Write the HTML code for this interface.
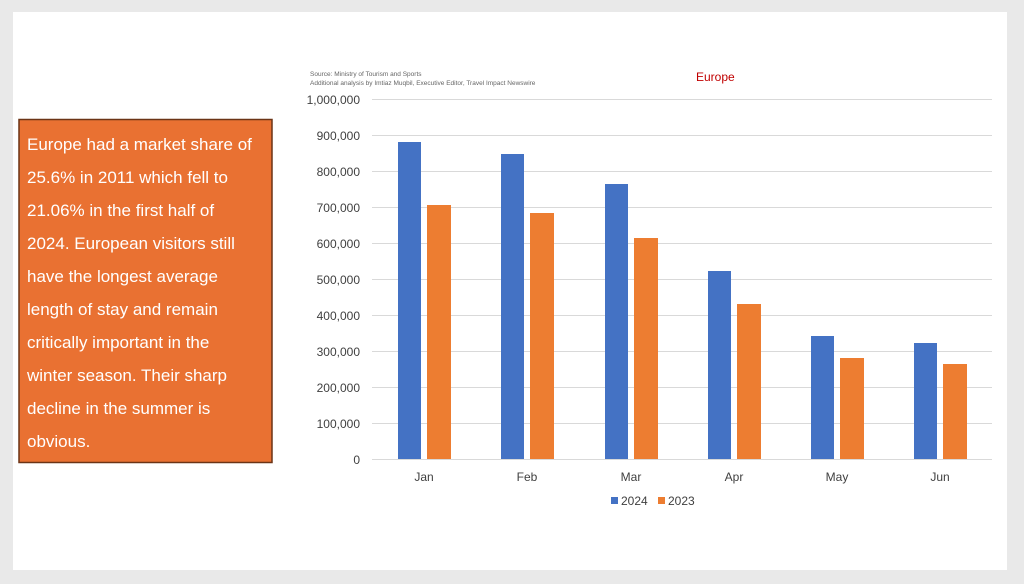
<!DOCTYPE html>
<html><head><meta charset="utf-8"><style>
html,body{margin:0;padding:0;background:#e9e9e9;}
svg{display:block;font-family:"Liberation Sans",sans-serif;}
</style></head><body>
<svg width="1024" height="584" xmlns="http://www.w3.org/2000/svg">
<rect x="0" y="0" width="1024" height="584" fill="#e9e9e9"/>
<rect x="13" y="12" width="994" height="558" fill="#ffffff"/>
<rect x="19" y="119.5" width="253" height="343" fill="#e97132" stroke="#6b3416" stroke-width="1.5"/>
<g fill="#ffffff" font-size="17">
<text x="27" y="150">Europe had a market share of</text>
<text x="27" y="183">25.6% in 2011 which fell to</text>
<text x="27" y="216">21.06% in the first half of</text>
<text x="27" y="249">2024. European visitors still</text>
<text x="27" y="282">have the longest average</text>
<text x="27" y="315">length of stay and remain</text>
<text x="27" y="348">critically important in the</text>
<text x="27" y="381">winter season. Their sharp</text>
<text x="27" y="414">decline in the summer is</text>
<text x="27" y="447">obvious.</text>
</g>
<text x="310" y="76" font-size="6.5" fill="#666">Source: Ministry of Tourism and Sports</text>
<text x="310" y="85" font-size="6.5" fill="#666">Additional analysis by Imtiaz Muqbil, Executive Editor, Travel Impact Newswire</text>
<text x="696" y="81" font-size="12" fill="#c00000">Europe</text>
<g stroke="#d9d9d9" stroke-width="1">
<line x1="372" x2="992" y1="99.5" y2="99.5"/><line x1="372" x2="992" y1="135.5" y2="135.5"/>
<line x1="372" x2="992" y1="171.5" y2="171.5"/><line x1="372" x2="992" y1="207.5" y2="207.5"/>
<line x1="372" x2="992" y1="243.5" y2="243.5"/><line x1="372" x2="992" y1="279.5" y2="279.5"/>
<line x1="372" x2="992" y1="315.5" y2="315.5"/><line x1="372" x2="992" y1="351.5" y2="351.5"/>
<line x1="372" x2="992" y1="387.5" y2="387.5"/><line x1="372" x2="992" y1="423.5" y2="423.5"/>
<line x1="372" x2="992" y1="459.5" y2="459.5"/>
</g>
<g font-size="12" fill="#404040" text-anchor="end">
<text x="360" y="104">1,000,000</text><text x="360" y="140">900,000</text><text x="360" y="176">800,000</text>
<text x="360" y="212">700,000</text><text x="360" y="248">600,000</text><text x="360" y="284">500,000</text>
<text x="360" y="320">400,000</text><text x="360" y="356">300,000</text><text x="360" y="392">200,000</text>
<text x="360" y="428">100,000</text><text x="360" y="464">0</text>
</g>
<g fill="#4472c4">
<rect x="398" y="142" width="23" height="317"/>
<rect x="501" y="154" width="23" height="305"/>
<rect x="605" y="184" width="23" height="275"/>
<rect x="708" y="271" width="23" height="188"/>
<rect x="811" y="336" width="23" height="123"/>
<rect x="914" y="343" width="23" height="116"/>
</g>
<g fill="#ed7d31">
<rect x="427" y="205" width="24" height="254"/>
<rect x="530" y="213" width="24" height="246"/>
<rect x="634" y="238" width="24" height="221"/>
<rect x="737" y="304" width="24" height="155"/>
<rect x="840" y="358" width="24" height="101"/>
<rect x="943" y="364" width="24" height="95"/>
</g>
<g font-size="12" fill="#404040" text-anchor="middle">
<text x="424" y="481">Jan</text><text x="527" y="481">Feb</text><text x="631" y="481">Mar</text>
<text x="734" y="481">Apr</text><text x="837" y="481">May</text><text x="940" y="481">Jun</text>
</g>
<rect x="611" y="497" width="7" height="7" fill="#4472c4"/>
<text x="621" y="505" font-size="12" fill="#404040">2024</text>
<rect x="658" y="497" width="7" height="7" fill="#ed7d31"/>
<text x="668" y="505" font-size="12" fill="#404040">2023</text>
</svg>
</body></html>
